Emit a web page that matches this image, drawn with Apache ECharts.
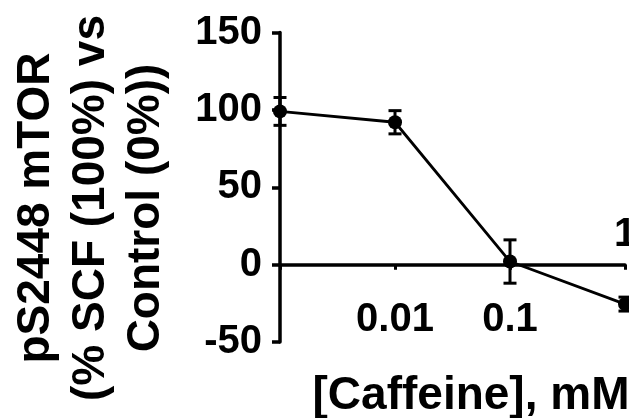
<!DOCTYPE html>
<html>
<head>
<meta charset="utf-8">
<script src="https://cdn.jsdelivr.net/npm/echarts@6/dist/echarts.min.js"></script>
<style>
html, body { margin: 0; padding: 0; background: #fff; }
#chart { width: 629px; height: 418px; }
</style>
</head>
<body>
<div id="chart"></div>
<script>
// caffeine dose (mM) and pS2448 mTOR response
var doses = [0.001, 0.01, 0.1, 1];
var means = [99, 92, 2, -25.5];
var errs = [9, 7.5, 14, 4.5];
// x tick labels shown under the axis, and the one drawn above it
var xTickValues = [0.01, 0.1];
var xTickText = ['0.01', '0.1'];
var xTopTickValue = 1;
var xTopTickText = '1';
// y axis ticks
var yTicks = [-50, 0, 50, 100, 150];

var FONT = 'Arial, "Liberation Sans", sans-serif';

var lineData = [];
var errData = [];
doses.forEach(function (d, i) {
    lineData.push([d, means[i]]);
    errData.push([d, means[i] - errs[i], means[i] + errs[i]]);
});

var chart = echarts.init(document.getElementById('chart'));

var option = {
    animation: false,
    grid: { left: 280, right: 4, top: 32.5, bottom: 76 },
    xAxis: {
        type: 'log',
        logBase: 10,
        min: doses[0],
        max: doses[doses.length - 1],
        splitNumber: 3,
        axisLine: { onZero: true, lineStyle: { color: '#000', width: 3.5 } },
        axisTick: { show: true, length: 5, lineStyle: { color: '#000', width: 3 } },
        splitLine: { show: false },
        axisLabel: {
            margin: -42,
            color: '#000',
            fontSize: 40,
            fontWeight: 'bold',
            fontFamily: FONT,
            formatter: function (v) {
                for (var i = 0; i < xTickValues.length; i++) {
                    if (Math.abs(Math.log10(v) - Math.log10(xTickValues[i])) < 1e-6) {
                        return xTickText[i];
                    }
                }
                return '';
            }
        }
    },
    yAxis: {
        type: 'value',
        min: yTicks[0],
        max: yTicks[yTicks.length - 1],
        interval: 50,
        axisLine: { show: true, lineStyle: { color: '#000', width: 3.5 } },
        axisTick: { show: true, length: 8, lineStyle: { color: '#000', width: 3.5 } },
        splitLine: { show: false },
        axisLabel: {
            margin: 18,
            color: '#000',
            fontSize: 40,
            fontWeight: 'bold',
            fontFamily: FONT
        }
    },
    series: [
        {
            type: 'custom',
            data: errData,
            clip: false,
            encode: { x: 0, y: [1, 2] },
            renderItem: function (params, api) {
                var top = api.coord([api.value(0), api.value(2)]);
                var bot = api.coord([api.value(0), api.value(1)]);
                var hw = 6.5;
                var st = { stroke: '#000', lineWidth: 3 };
                return {
                    type: 'group',
                    children: [
                        { type: 'line', shape: { x1: top[0], y1: top[1], x2: bot[0], y2: bot[1] }, style: st },
                        { type: 'line', shape: { x1: top[0] - hw, y1: top[1], x2: top[0] + hw, y2: top[1] }, style: st },
                        { type: 'line', shape: { x1: bot[0] - hw, y1: bot[1], x2: bot[0] + hw, y2: bot[1] }, style: st }
                    ]
                };
            }
        },
        {
            type: 'line',
            data: lineData,
            clip: false,
            symbol: 'circle',
            symbolSize: 14,
            itemStyle: { color: '#000' },
            lineStyle: { color: '#000', width: 2.8 }
        }
    ]
};
chart.setOption(option);

// label "1" sits above the axis line, placed through the axis scale
var topPos = chart.convertToPixel({ gridIndex: 0 }, [xTopTickValue, 0]);

chart.setOption({
    graphic: [
        {
            type: 'text',
            x: 91,
            y: 208,
            rotation: Math.PI / 2,
            style: {
                text: 'pS2448 mTOR\n(% SCF (100%) vs\nControl (0%))',
                fontSize: 46,
                fontWeight: 'bold',
                fontFamily: FONT,
                fill: '#000',
                textAlign: 'center',
                textVerticalAlign: 'middle',
                align: 'center',
                verticalAlign: 'middle',
                lineHeight: 55
            }
        },
        {
            type: 'text',
            x: 471,
            y: 396,
            style: {
                text: '[Caffeine], mM',
                fontSize: 46,
                fontWeight: 'bold',
                fontFamily: FONT,
                fill: '#000',
                textAlign: 'center',
                textVerticalAlign: 'middle',
                align: 'center',
                verticalAlign: 'middle'
            }
        },
        {
            type: 'text',
            x: topPos[0],
            y: topPos[1] - 30,
            style: {
                text: xTopTickText,
                fontSize: 40,
                fontWeight: 'bold',
                fontFamily: FONT,
                fill: '#000',
                textAlign: 'center',
                textVerticalAlign: 'middle',
                align: 'center',
                verticalAlign: 'middle'
            }
        }
    ]
});
</script>
</body>
</html>
